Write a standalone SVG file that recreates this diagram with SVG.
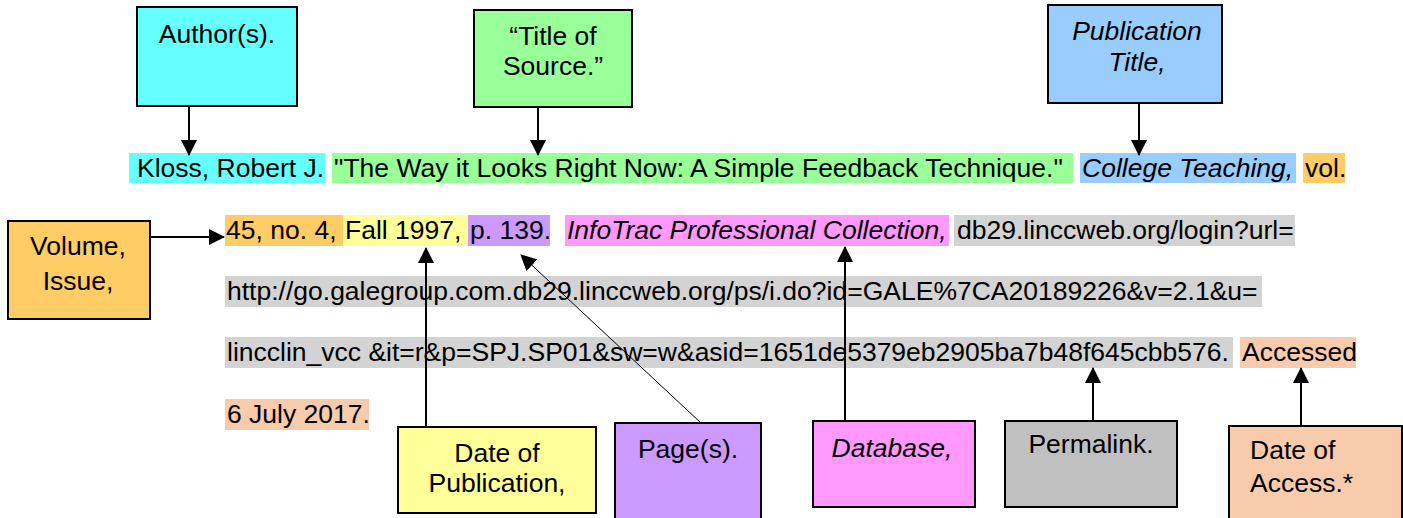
<svg xmlns="http://www.w3.org/2000/svg" width="1403" height="518" viewBox="0 0 1403 518">
<style>
text{font-family:"Liberation Sans",Arial,sans-serif;font-size:26.5px;fill:#000}
.c{text-anchor:middle}
.i{font-style:italic}
.box{stroke:#000;stroke-width:2}
.ln{stroke:#000;stroke-width:2;fill:none}
.thin{stroke:#000;stroke-width:1;fill:none}
</style>
<defs>
<marker id="ah" markerUnits="userSpaceOnUse" markerWidth="16" markerHeight="16" viewBox="0 0 16 16" refX="15" refY="8" orient="auto">
<path d="M0,0 L16,8 L0,16 Z" fill="#000"/>
</marker>
</defs>
<g id="citation">
<rect x="129" y="153" width="196" height="30" fill="#66FFFF"/>
<rect x="332" y="153" width="741" height="30" fill="#99FF99"/>
<rect x="1080" y="153" width="216" height="30" fill="#99CCFF"/>
<rect x="1303" y="153" width="42" height="30" fill="#FFCC66"/>
<rect x="225" y="215" width="118" height="31" fill="#FFCC66"/>
<rect x="343" y="215" width="125" height="31" fill="#FFFF99"/>
<rect x="468" y="215" width="82" height="31" fill="#CC99FF"/>
<rect x="565" y="215" width="384" height="31" fill="#FF99FF"/>
<rect x="954" y="215" width="341" height="31" fill="#D3D3D3"/>
<rect x="225" y="276" width="1037" height="31" fill="#D3D3D3"/>
<rect x="225" y="337" width="1008" height="31" fill="#D3D3D3"/>
<rect x="1240" y="337" width="116" height="31" fill="#F8CBAD"/>
<rect x="225" y="399" width="144" height="31" fill="#F8CBAD"/>
<text x="137" y="177">Kloss, Robert J.</text>
<text x="334" y="177">"The Way it Looks Right Now: A Simple Feedback Technique."</text>
<text x="1082" y="177" class="i">College Teaching,</text>
<text x="1305" y="177">vol.</text>
<text x="226" y="239">45, no. 4,</text>
<text x="345" y="239">Fall 1997,</text>
<text x="470" y="239">p. 139.</text>
<text x="567" y="239" class="i">InfoTrac Professional Collection,</text>
<text x="957" y="239">db29.linccweb.org/login?url=</text>
<text x="227" y="300">http://go.galegroup.com.db29.linccweb.org/ps/i.do?id=GALE%7CA20189226&amp;v=2.1&amp;u=</text>
<text x="227" y="361">lincclin_vcc &amp;it=r&amp;p=SPJ.SP01&amp;sw=w&amp;asid=1651de5379eb2905ba7b48f645cbb576.</text>
<text x="1242" y="361">Accessed</text>
<text x="227" y="423">6 July 2017.</text>
</g>
<g id="connectors">
<line class="ln" x1="189" y1="106" x2="189" y2="155" marker-end="url(#ah)"/>
<line class="ln" x1="538" y1="107" x2="538" y2="155" marker-end="url(#ah)"/>
<line class="ln" x1="1139" y1="103" x2="1139" y2="155" marker-end="url(#ah)"/>
<line class="ln" x1="150" y1="237" x2="224" y2="237" marker-end="url(#ah)"/>
<line class="ln" x1="426" y1="427" x2="426" y2="248" marker-end="url(#ah)"/>
<line class="thin" x1="701" y1="423" x2="521" y2="255" marker-end="url(#ah)"/>
<line class="ln" x1="845" y1="421" x2="845" y2="247" marker-end="url(#ah)"/>
<line class="ln" x1="1093" y1="421" x2="1093" y2="368" marker-end="url(#ah)"/>
<line class="ln" x1="1301" y1="426" x2="1301" y2="368" marker-end="url(#ah)"/>
</g>
<g id="author">
<rect class="box" x="137" y="7" width="160" height="99" fill="#66FFFF"/>
<text class="c" x="217" y="43">Author(s).</text>
</g>
<g id="title">
<rect class="box" x="474" y="10" width="158" height="97" fill="#99FF99"/>
<text class="c" x="553" y="45">“Title of</text>
<text class="c" x="553" y="75">Source.”</text>
</g>
<g id="publication">
<rect class="box" x="1048" y="5" width="174" height="98" fill="#99CCFF"/>
<text class="c i" x="1137" y="40">Publication</text>
<text class="c i" x="1137" y="71">Title,</text>
</g>
<g id="volume">
<rect class="box" x="8" y="221" width="142" height="98" fill="#FFCC66"/>
<text class="c" x="78" y="255">Volume,</text>
<text class="c" x="78" y="290">Issue,</text>
</g>
<g id="date-pub">
<rect class="box" x="398" y="427" width="198" height="86" fill="#FFFF99"/>
<text class="c" x="497" y="462">Date of</text>
<text class="c" x="497" y="492">Publication,</text>
</g>
<g id="pages">
<rect class="box" x="615" y="423" width="146" height="100" fill="#CC99FF"/>
<text class="c" x="688" y="458">Page(s).</text>
</g>
<g id="database">
<rect class="box" x="813" y="421" width="162" height="86" fill="#FF99FF"/>
<text class="c i" x="892" y="457">Database,</text>
</g>
<g id="permalink">
<rect class="box" x="1005" y="421" width="172" height="86" fill="#C0C0C0"/>
<text class="c" x="1091" y="453">Permalink.</text>
</g>
<g id="date-access">
<rect class="box" x="1229" y="426" width="173" height="97" fill="#F8CBAD"/>
<text x="1250" y="459">Date of</text>
<text x="1250" y="492">Access.*</text>
</g>
</svg>
